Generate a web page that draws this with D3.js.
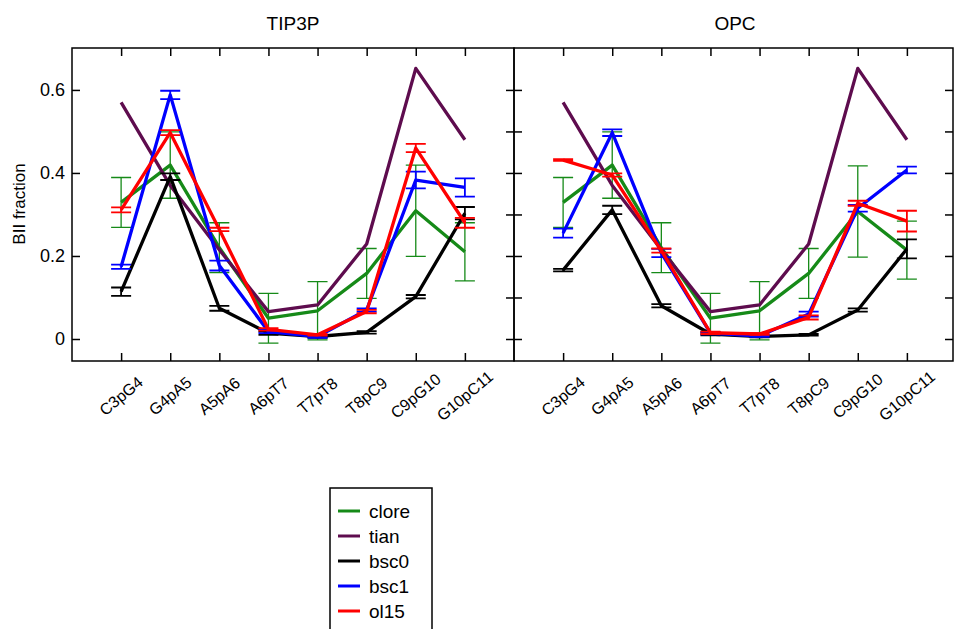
<!DOCTYPE html>
<html>
<head>
<meta charset="utf-8">
<script src="https://cdn.jsdelivr.net/npm/d3@7"></script>
<style>
    body { margin: 0; background: #fff; }
    svg { font-family: "Liberation Sans", Arial, sans-serif; }
</style>
</head>
<body>
<svg id="chart"></svg>
<script>
var width = 954;
var height = 629;

// categories (dinucleotide steps) and panels
var categories = ["C3pG4", "G4pA5", "A5pA6", "A6pT7", "T7pT8", "T8pC9", "C9pG10", "G10pC11"];
var panels = ["TIP3P", "OPC"];
var seriesNames = ["clore", "tian", "bsc0", "bsc1", "ol15"];
var seriesColors = ["#168a18", "#5e0c4e", "#000000", "#0000ff", "#ff0000"];
var yTicks = [0, 0.2, 0.4, 0.6];
var yMinorTicks = [0, 0.1, 0.2, 0.3, 0.4, 0.5, 0.6];

// BII fraction, TIP3P
var cloreTIP3P = [0.329, 0.419, 0.22, 0.05, 0.068, 0.158, 0.309, 0.21];
var cloreTIP3PErr = [0.06, 0.08, 0.06, 0.06, 0.07, 0.06, 0.11, 0.07];
var tianTIP3P = [0.57, 0.37, 0.215, 0.066, 0.082, 0.229, 0.652, 0.48];
var bsc0TIP3P = [0.114, 0.391, 0.074, 0.014, 0.006, 0.016, 0.102, 0.303];
var bsc0TIP3PErr = [0.01, 0.008, 0.006, 0.004, 0.003, 0.003, 0.004, 0.015];
var bsc1TIP3P = [0.174, 0.588, 0.177, 0.018, 0.006, 0.07, 0.383, 0.365];
var bsc1TIP3PErr = [0.005, 0.01, 0.012, 0.004, 0.003, 0.004, 0.02, 0.022];
var ol15TIP3P = [0.311, 0.497, 0.264, 0.023, 0.01, 0.066, 0.46, 0.28];
var ol15TIP3PErr = [0.006, 0.006, 0.004, 0.003, 0.002, 0.004, 0.01, 0.012];

// BII fraction, OPC
var cloreOPC = [0.329, 0.419, 0.22, 0.05, 0.068, 0.158, 0.307, 0.214];
var cloreOPCErr = [0.06, 0.08, 0.06, 0.06, 0.07, 0.06, 0.11, 0.07];
var tianOPC = [0.57, 0.37, 0.215, 0.066, 0.082, 0.229, 0.652, 0.48];
var bsc0OPC = [0.166, 0.311, 0.08, 0.012, 0.006, 0.01, 0.07, 0.217];
var bsc0OPCErr = [0.003, 0.01, 0.004, 0.003, 0.002, 0.002, 0.004, 0.023];
var bsc1OPC = [0.255, 0.497, 0.207, 0.014, 0.007, 0.06, 0.315, 0.407];
var bsc1OPCErr = [0.011, 0.008, 0.01, 0.003, 0.002, 0.006, 0.008, 0.008];
var ol15OPC = [0.431, 0.395, 0.213, 0.015, 0.012, 0.052, 0.327, 0.284];
var ol15OPCErr = [0.002, 0.004, 0.005, 0.003, 0.002, 0.005, 0.006, 0.025];

var panelData = {
    TIP3P: [[cloreTIP3P, cloreTIP3PErr], [tianTIP3P, null], [bsc0TIP3P, bsc0TIP3PErr],
            [bsc1TIP3P, bsc1TIP3PErr], [ol15TIP3P, ol15TIP3PErr]],
    OPC: [[cloreOPC, cloreOPCErr], [tianOPC, null], [bsc0OPC, bsc0OPCErr],
          [bsc1OPC, bsc1OPCErr], [ol15OPC, ol15OPCErr]]
};

var plotTop = 48, plotBottom = 361;
var panelLeft = [72, 514];
var panelWidth = 442;
var frameRight = 953;

var y = d3.scaleLinear()
    .domain([-0.053, 0.701])
    .range([plotBottom, plotTop]);

var svg = d3.select("#chart")
    .attr("width", width)
    .attr("height", height);

// y axis label
svg.append("text")
    .attr("transform", `translate(25, 204) rotate(-90)`)
    .attr("text-anchor", "middle")
    .style("font-size", "17px")
    .text("BII fraction");

panels.forEach(function(p, pi){
    var x0 = panelLeft[pi];
    var x1 = pi === 0 ? x0 + panelWidth : frameRight;
    var x = d3.scalePoint()
        .domain(categories)
        .range([x0, x0 + panelWidth])
        .padding(1);

    var g = svg.append("g");

    // panel title
    g.append("text")
        .attr("x", x0 + panelWidth / 2)
        .attr("y", 30)
        .attr("text-anchor", "middle")
        .style("font-size", "19px")
        .text(p);

    // category ticks top and bottom, pointing inside
    g.append("g")
        .attr("transform", `translate(0, ${plotTop})`)
        .call(d3.axisTop(x).tickSize(-8).tickFormat(""))
        .call(a => a.select(".domain").remove());
    g.append("g")
        .attr("transform", `translate(0, ${plotBottom})`)
        .call(d3.axisBottom(x).tickSize(-8).tickFormat(""))
        .call(a => a.select(".domain").remove());

    // rotated category labels
    g.append("g")
        .selectAll("text")
        .data(categories)
        .join("text")
        .attr("transform", d => `translate(${x(d)}, 396) rotate(-40)`)
        .attr("text-anchor", "middle")
        .attr("dominant-baseline", "central")
        .style("font-size", "16px")
        .text(d => d);

    // y ticks
    if(pi === 0){
        g.append("g")
            .attr("transform", `translate(${x0}, 0)`)
            .call(d3.axisLeft(y).tickValues(yTicks).tickSize(-8).tickPadding(7)
                .tickFormat(d => d === 0 ? "0" : d3.format(".1f")(d)))
            .call(a => a.select(".domain").remove())
            .call(a => a.selectAll("text").style("font-size", "18px").style("font-family", "Liberation Sans, Arial, sans-serif").attr("fill", "#000"));
        g.append("g")
            .attr("transform", `translate(${x1}, 0)`)
            .call(d3.axisLeft(y).tickValues(yMinorTicks).tickSize(8).tickFormat(""))
            .call(a => a.select(".domain").remove());
    }else{
        g.append("g")
            .attr("transform", `translate(${x0}, 0)`)
            .call(d3.axisRight(y).tickValues(yMinorTicks).tickSize(8).tickFormat(""))
            .call(a => a.select(".domain").remove());
        g.append("g")
            .attr("transform", `translate(${x1}, 0)`)
            .call(d3.axisLeft(y).tickValues(yMinorTicks).tickSize(8).tickFormat(""))
            .call(a => a.select(".domain").remove());
    }
    g.selectAll(".tick line").attr("stroke", "#000").attr("stroke-width", 1.5);

    // series: error bars then line
    var line = d3.line()
        .x((d, i) => x(categories[i]))
        .y(d => y(d));

    panelData[p].forEach(function(s, si){
        var vals = s[0], errs = s[1];
        var col = seriesColors[si];
        var sg = g.append("g");
        if(errs !== null){
            sg.append("g")
                .attr("stroke", col)
                .attr("stroke-width", si === 0 ? 1.3 : 1.8)
                .attr("fill", "none")
                .selectAll("path")
                .data(vals)
                .join("path")
                .attr("d", function(d, i){
                    var cx = x(categories[i]);
                    var ylo = y(d - errs[i]), yhi = y(d + errs[i]);
                    return `M${cx - 10},${yhi}H${cx + 10}M${cx},${yhi}V${ylo}M${cx - 10},${ylo}H${cx + 10}`;
                });
        }
        sg.append("path")
            .datum(vals)
            .attr("fill", "none")
            .attr("stroke", col)
            .attr("stroke-width", 3.3)
            .attr("stroke-linejoin", "round")
            .attr("d", line);
    });

    // frame
    g.append("rect")
        .attr("x", x0)
        .attr("y", plotTop)
        .attr("width", x1 - x0)
        .attr("height", plotBottom - plotTop)
        .attr("fill", "none")
        .attr("stroke", "#000")
        .attr("stroke-width", 1.5);
});

// legend
var legend = svg.append("g");
legend.append("rect")
    .attr("x", 330)
    .attr("y", 488)
    .attr("width", 102)
    .attr("height", 200)
    .attr("fill", "#fff")
    .attr("stroke", "#000")
    .attr("stroke-width", 1.5);

var item = legend.selectAll("g.item")
    .data(seriesNames)
    .join("g")
    .attr("class", "item")
    .attr("transform", (d, i) => `translate(0, ${511 + i * 25})`);
item.append("line")
    .attr("x1", 338).attr("x2", 360)
    .attr("stroke", (d, i) => seriesColors[i])
    .attr("stroke-width", 3);
item.append("text")
    .attr("x", 369)
    .attr("dominant-baseline", "central")
    .style("font-size", "19px")
    .text(d => d);
</script>
</body>
</html>
